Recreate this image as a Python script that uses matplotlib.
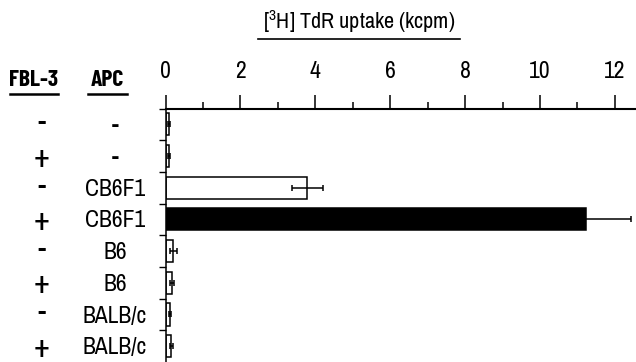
import matplotlib
matplotlib.use("Agg")
import matplotlib.pyplot as plt
from matplotlib.lines import Line2D
from matplotlib import transforms

plt.rcParams['font.family'] = ['Archivo Narrow', 'DejaVu Sans']
plt.rcParams['mathtext.fontset'] = 'custom'
plt.rcParams['mathtext.rm'] = 'Archivo Narrow'
plt.rcParams['mathtext.it'] = 'Archivo Narrow'

fbl3 = ['-', '+', '-', '+', '-', '+', '-', '+']
apc = ['-', '-', 'CB6F1', 'CB6F1', 'B6', 'B6', 'BALB/c', 'BALB/c']
uptake = [0.09, 0.09, 3.79, 11.23, 0.21, 0.17, 0.12, 0.16]
err = [0.02, 0.02, 0.42, 1.2, 0.1, 0.06, 0.03, 0.03]
fills = ['white', 'white', 'white', 'black', 'white', 'white', 'white', 'white']

W, H = 636, 362
fig = plt.figure(figsize=(W / 100, H / 100), dpi=100)
x0, ytop = 165.5, 108.5
ax = fig.add_axes([x0 / W, 0, (W - x0) / W, (H - ytop) / H])

rows = list(range(len(uptake)))
ax.barh(rows, uptake, height=0.7, color=fills, edgecolor='black', linewidth=1.1)
ax.errorbar(uptake, rows, xerr=err, fmt='none', ecolor='black',
            elinewidth=1.1, capsize=2.5, capthick=1.1)

ax.set_xlim(0, (W - x0) / 37.45)
ax.set_ylim(7.5, -0.47)

ax.xaxis.tick_top()
ax.set_xticks([0, 2, 4, 6, 8, 10, 12])
ax.set_xticks([1, 3, 5, 7, 9, 11], minor=True)
ax.tick_params(axis='x', which='major', direction='out', length=10, width=1.1,
               labelsize=17, pad=9)
ax.tick_params(axis='x', which='minor', direction='out', length=5, width=1.1)

ax.set_yticks([r - 0.5 for r in rows])
ax.set_yticklabels([])
ax.tick_params(axis='y', direction='out', length=5, width=1.0)

for s in ['right', 'bottom']:
    ax.spines[s].set_visible(False)
ax.spines['top'].set_linewidth(1.5)
ax.spines['left'].set_linewidth(1.1)

# row labels
tr = transforms.blended_transform_factory(fig.transFigure, ax.transData)
for r in rows:
    if fbl3[r] == '+':
        ax.text(42 / W, r + 0.05, '+', transform=tr, ha='center', va='center',
                fontsize=24)
    else:
        ax.text(42 / W, r, '-', transform=tr, ha='center', va='center',
                fontsize=18, fontweight='bold',
                family=['Barlow Condensed', 'DejaVu Sans'])
    ax.text(115 / W, r + 0.05, apc[r], transform=tr, ha='center', va='center',
            fontsize=17 if apc[r] != '-' else 18)

# column headers
for xp, txt in [(34, 'FBL-3'), (107, 'APC')]:
    fig.text(xp / W, 1 - 80 / H, txt, ha='center', va='center', fontsize=17,
             fontweight='bold', family=['Barlow Condensed', 'DejaVu Sans'])
fig.add_artist(Line2D([10 / W, 58 / W], [1 - 94 / H] * 2, color='black', lw=1.8))
fig.add_artist(Line2D([88 / W, 127 / W], [1 - 94 / H] * 2, color='black', lw=1.8))

# title
fig.text(359 / W, 1 - 22 / H, r'[$^{3}$H] TdR uptake (kcpm)', ha='center',
         va='center', fontsize=16)
fig.add_artist(Line2D([258 / W, 460 / W], [1 - 39 / H] * 2, color='black', lw=1.2))

fig.savefig('out.png', dpi=100)
